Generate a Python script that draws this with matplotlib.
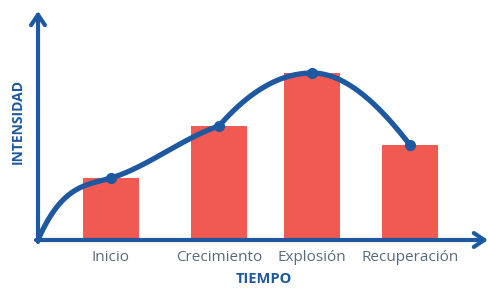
import numpy as np
import matplotlib
matplotlib.use("Agg")
from matplotlib import pyplot as plt

# datos
etapas = ["Inicio", "Crecimiento", "Explosión", "Recuperación"]
tiempo = [73, 181, 274, 372]          # posicion de cada etapa en el eje del tiempo
intensidad = [62, 114, 167, 95]       # altura de las barras / puntos de la curva
# pendientes de la curva a cada lado de los puntos (origen, etapas...)
pend_izq = [None, 0.3, 0.33, 0.0, -1.3]
pend_der = [2.3, 0.3, 1.15, 0.0, None]

AZUL = "#1d58a0"
ROJO = "#f05a52"
GRIS = "#566b7e"

plt.rcParams['font.family'] = ['Open Sans', 'DejaVu Sans']

fig = plt.figure(figsize=(4.89, 2.88), dpi=100)
ax = fig.add_axes([38 / 489, 48 / 288, 451 / 489, 240 / 288])
ax.set_xlim(0, 451)
ax.set_ylim(0, 240)
for s in ax.spines.values():
    s.set_visible(False)
ax.set_yticks([])

# barras
ax.bar(tiempo, intensidad, width=56, color=ROJO, zorder=1)

# curva (hermite por tramos desde el origen)
px = [0] + tiempo
py = [0] + intensidad
cx, cy = [], []
for i in range(len(px) - 1):
    h = px[i + 1] - px[i]
    t = np.linspace(0, 1, 60)
    h00 = 2 * t**3 - 3 * t**2 + 1
    h10 = t**3 - 2 * t**2 + t
    h01 = -2 * t**3 + 3 * t**2
    h11 = t**3 - t**2
    y = h00 * py[i] + h10 * h * pend_der[i] + h01 * py[i + 1] + h11 * h * pend_izq[i + 1]
    cx.extend(px[i] + t * h)
    cy.extend(y)
ax.plot(cx, cy, color=AZUL, lw=3.8, solid_capstyle='round', zorder=3, clip_on=False)
ax.plot(tiempo, intensidad, 'o', color=AZUL, ms=7, zorder=4)

# ejes con flechas
flecha = dict(arrowstyle="->,head_length=0.75,head_width=0.5", color=AZUL, lw=3,
              shrinkA=0, shrinkB=0)
ax.annotate("", xy=(450, 0), xytext=(-2, 0), arrowprops=flecha, annotation_clip=False)
ax.annotate("", xy=(0, 229), xytext=(0, -2), arrowprops=flecha, annotation_clip=False)

ax.set_xticks(tiempo, etapas)
ax.tick_params(axis='x', length=0, pad=7, labelsize=11, labelcolor=GRIS)
ax.set_xlabel("TIEMPO", color=AZUL, fontsize=10.5, fontweight='bold', labelpad=5)
fig.text(18 / 489, 1 - 121 / 288, "INTENSIDAD", rotation=90, color=AZUL, fontsize=10,
         fontweight='bold', ha='center', va='center')

fig.savefig("out.png", dpi=100)
